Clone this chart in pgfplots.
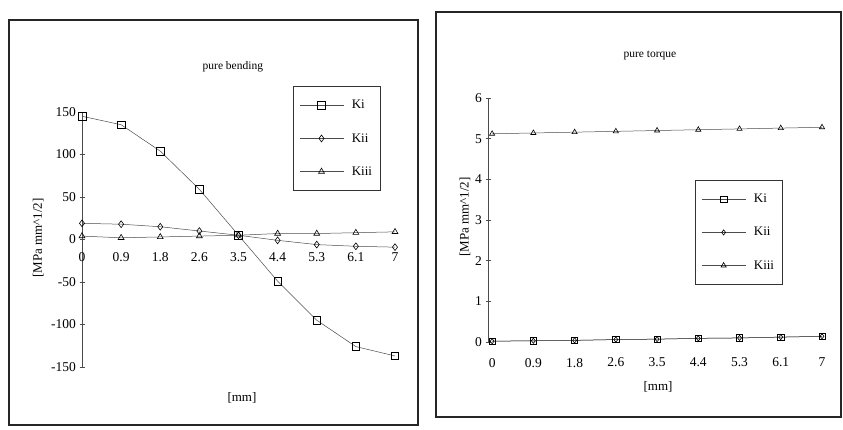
\documentclass[border=0pt]{standalone}
\usepackage{fontspec}
\setmainfont{Liberation Serif}
\usepackage{pgfplots}
\pgfplotsset{compat=1.18}
\pgfplotstableread{
x Ki Kii Kiii
0 145 19 4
1 135 18 2
2 104 15 3
3 59 10 4
4 5 5 5
5 -49 -1 7
6 -95 -6 7
7 -126 -8 8
8 -137 -9 9
}\bending
\pgfplotstableread{
x Ki Kii Kiii
0 0.02 0.02 5.12
1 0.03 0.03 5.14
2 0.04 0.04 5.16
3 0.06 0.06 5.18
4 0.07 0.07 5.20
5 0.09 0.09 5.22
6 0.10 0.10 5.24
7 0.12 0.12 5.26
8 0.14 0.14 5.28
}\torque
\pgfplotsset{
  kstyle/.style={
    scale only axis,
    axis y line=left, axis x line=middle,
    hide obscured x ticks=false, hide obscured y ticks=false,
    x axis line style={draw=none},
    y axis line style={-, black!70, line width=0.5pt},
    xtick={0,...,8},
    xticklabels={0,0.9,1.8,2.6,3.5,4.4,5.3,6.1,7},
    xtick style={draw=none},
    ytick style={black!70, line width=0.5pt},
    major tick length=5pt, tick align=center,
    xmax=8,
    tick label style={font=\fontsize{13.5}{13.5}\selectfont},
    /pgf/number format/assume math mode=true,
    label style={font=\fontsize{13}{13}\selectfont},
    title style={font=\fontsize{11.5}{12}\selectfont},
    legend style={draw=black!80, line width=0.6pt, font=\fontsize{13}{13}\selectfont,
      row sep=19pt, inner ysep=12pt, inner xsep=6pt, anchor=north west},
    legend cell align=left,
    legend image code/.code={\draw[mark repeat=2,mark phase=2] plot coordinates {(0pt,0pt) (22pt,0pt) (44pt,0pt)};\path (50pt,0pt);},
  },
  kplot/.style={black!70, line width=0.5pt, mark options={black, solid, line width=0.6pt, fill=white}},
}
\begin{document}
\begin{tikzpicture}[x=1pt,y=1pt]
\useasboundingbox (0,0) rectangle (843,430);
\draw[line width=1.6pt, black!85] (9,5) rectangle (418,410);
\draw[line width=1.6pt, black!85] (436,13) rectangle (841,418);
\begin{axis}[kstyle,
  at={(82pt,63pt)}, anchor=south west,
  width=313pt, height=255pt,
  xmin=0, ymin=-150, ymax=150,
  ytick={-150,-100,...,150},
  xticklabel style={yshift=-7pt},
  title={pure bending},
  title style={at={(axis description cs:0.482,1.153)}, anchor=center},
  xlabel={[mm]},
  xlabel style={at={(axis description cs:0.511,-0.122)}, anchor=center},
  ylabel={[MPa mm\textasciicircum 1/2]},
  ylabel style={at={(axis description cs:-0.14,0.506)}, anchor=center},
  legend style={at={(axis description cs:0.674,1.102)}},
]
\addplot[kplot, mark=square, mark size=3.8pt] table[x=x,y=Ki] {\bending};
\addplot[kplot, mark=diamond, mark size=3.4pt] table[x=x,y=Kii] {\bending};
\addplot[kplot, mark=triangle, mark size=3.4pt] table[x=x,y=Kiii] {\bending};
\legend{Ki,Kii,Kiii}
\end{axis}
\begin{axis}[kstyle,
  at={(488pt,88pt)}, anchor=south west,
  width=334pt, height=244pt,
  xmin=-0.1, ymin=0, ymax=6,
  ytick={0,1,...,6},
  xticklabel style={yshift=-10pt},
  title={pure torque},
  title style={at={(axis description cs:0.485,1.151)}, anchor=center},
  xlabel={[mm]},
  xlabel style={at={(axis description cs:0.509,-0.184)}, anchor=center},
  ylabel={[MPa mm\textasciicircum 1/2]},
  ylabel style={at={(axis description cs:-0.069,0.512)}, anchor=center},
  legend style={at={(axis description cs:0.62,0.664)}},
]
\addplot[kplot, mark=square, mark size=3.2pt] table[x=x,y=Ki] {\torque};
\addplot[kplot, mark=diamond, mark size=2.6pt] table[x=x,y=Kii] {\torque};
\addplot[kplot, mark=triangle, mark size=3pt] table[x=x,y=Kiii] {\torque};
\legend{Ki,Kii,Kiii}
\end{axis}
\end{tikzpicture}
\end{document}
